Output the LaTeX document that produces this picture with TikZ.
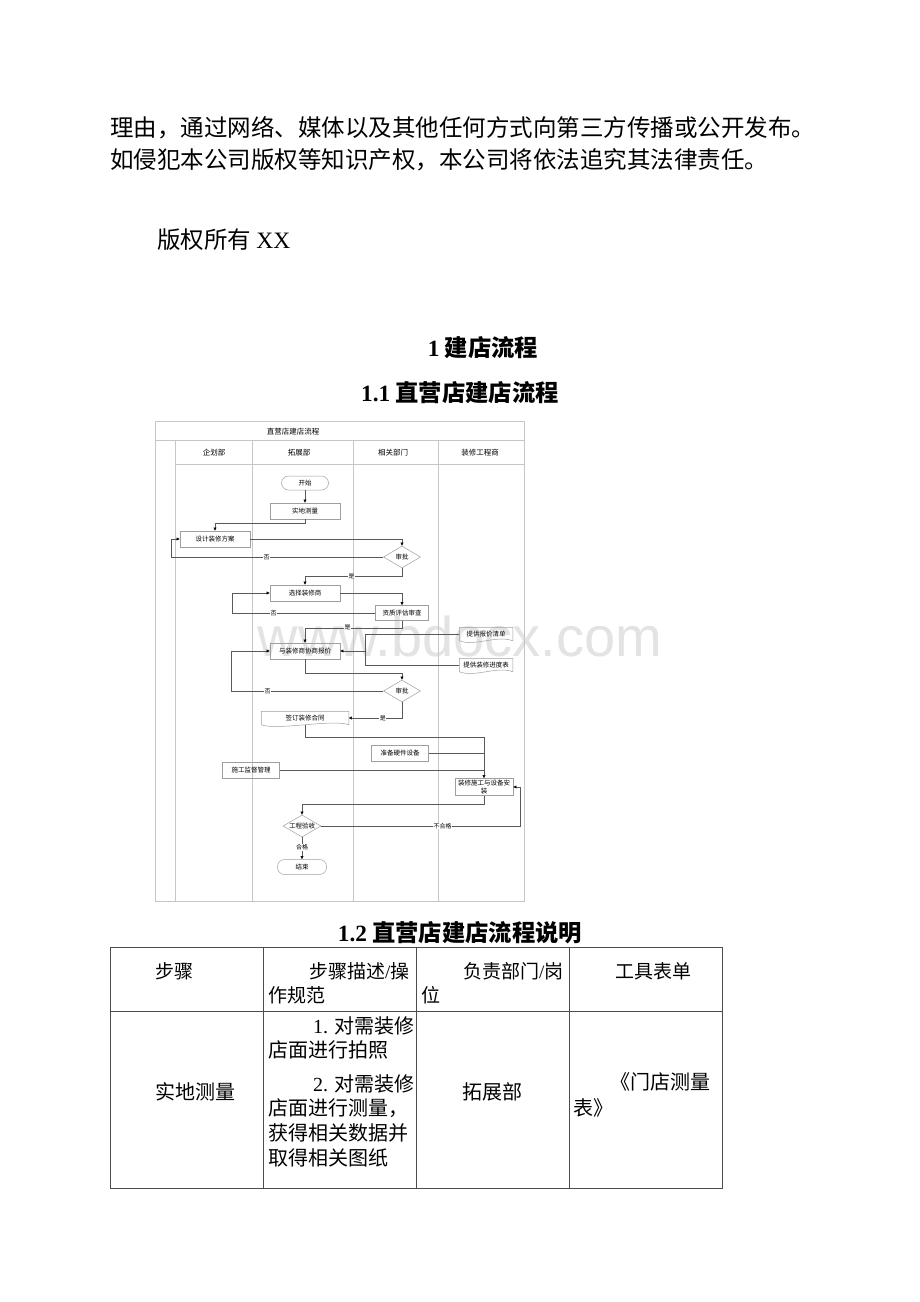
\documentclass[tikz,border=0pt]{standalone}
\usepackage{fontspec}
\setmainfont{Liberation Serif}
\newfontfamily\cjk{Noto Sans CJK SC}
\newfontfamily\wmfont{Liberation Sans}
\usetikzlibrary{arrows.meta,shapes.geometric}
\begin{document}
\begin{tikzpicture}[x=1pt,y=-1pt,
  body/.style={anchor=west,inner sep=0pt,font=\cjk\fontsize{23.5}{28}\selectfont},
  head/.style={inner sep=0pt,font=\cjk\bfseries\fontsize{23.3}{28}\selectfont},
  cell/.style={anchor=west,inner sep=0pt,font=\cjk\fontsize{20}{24}\selectfont},
  hcell/.style={cell,font=\cjk\fontsize{19}{24}\selectfont},
  lane/.style={inner sep=0pt,font=\cjk\fontsize{7.5}{8}\selectfont},
  box/.style={draw=gray!75,line width=0.5pt},
  proc/.style={box,minimum width=70,minimum height=16,inner sep=1pt,font=\cjk\fontsize{6.5}{7.5}\selectfont},
  term/.style={proc,rounded corners=7,minimum width=47,minimum height=14},
  dec/.style={proc,diamond,aspect=1.7,minimum width=37,minimum height=22,inner sep=0pt},
  doc/.style={proc,draw=none,minimum width=53,minimum height=13},
  wire/.style={draw=gray!70!black,line width=0.45pt},
  arr/.style={wire,-{Triangle[length=3.2pt,width=3pt,color=black]}},
  lbl/.style={fill=white,inner sep=0.6pt,font=\cjk\fontsize{6}{6}\selectfont},
  frame/.style={draw=gray!45,line width=0.8pt},
  tline/.style={draw=black!70,line width=0.8pt}]
\fill[white] (0,0) rectangle (920,1302);
\useasboundingbox (0,0) rectangle (920,1302);

\node[body] (p1) at (110,128) {理由，通过网络、媒体以及其他任何方式向第三方传播或公开发布。};
\node[body] (p2) at (110,160) {如侵犯本公司版权等知识产权，本公司将依法追究其法律责任。};
\node[body] (cr) at (157,240) {版权所有 {\rmfamily XX}};
\node[head] (h1) at (483,348) {{\rmfamily 1} 建店流程};
\node[head] (h11) at (460,393) {{\rmfamily 1.1} 直营店建店流程};

\node[text=gray!22,font=\wmfont\fontsize{56}{56}\selectfont] (wm) at (460,636) {www.bdocx.com};

\draw[frame] (155,421) rectangle (524,901);
\draw[frame] (155,440) -- (524,440) (175,464) -- (524,464);
\foreach \x in {175,252,353,438} \draw[frame] (\x,440) -- (\x,901);
\node[lane] (ttl) at (293,432) {直营店建店流程};
\node[lane] (l1) at (214,453) {企划部};
\node[lane] (l2) at (299,453) {拓展部};
\node[lane] (l3) at (393,453) {相关部门};
\node[lane] (l4) at (480,453) {装修工程商};

\node[term] (start) at (305,483) {开始};
\node[proc] (survey) at (305,511) {实地测量};
\node[proc] (design) at (215,539) {设计装修方案};
\node[dec] (ok1) at (402,557) {审批};
\node[proc] (pick) at (305,593) {选择装修商};
\node[proc,minimum width=53,minimum height=15] (check) at (402,613) {资质评估审查};
\node[doc] (price) at (486,634) {提供报价清单};
\node[doc] (plan) at (486,665) {提供装修进度表};
\node[proc] (nego) at (305,651) {与装修商协商报价};
\node[dec] (ok2) at (402,691) {审批};
\node[doc,minimum width=87] (deal) at (305,718) {签订装修合同};
\node[proc,minimum width=57] (gear) at (400,753) {准备硬件设备};
\node[proc,minimum width=57] (watch) at (251,770) {施工监督管理};
\node[proc,minimum width=58,minimum height=17,align=center] (build) at (484,787) {装修施工与设备安\\装};
\node[dec,minimum width=38] (accept) at (302,826) {工程验收};
\node[term,minimum width=49,minimum height=15] (stop) at (302,867) {结束};
\foreach \n in {price,plan,deal}
  \draw[box] (\n.south east) -- (\n.north east) -- (\n.north west) -- (\n.south west) .. controls +(16,6) and +(-16,-6) .. (\n.south east);

\draw[arr] (start) -- (survey);
\draw[arr] (survey.south) -- ++(0,4) -| (design.north);
\draw[arr] (design.east) -| (ok1.north);
\draw[arr] (ok1.west) -- ++(-212,0) node[lbl,pos=0.55] {否} |- (design.west);
\draw[arr] (ok1.south) -- ++(0,8) -| (pick.north) node[lbl,pos=0.26] {是};
\draw[arr] (pick.east) -| (check.north);
\draw[arr] (check.west) -- ++(-143,0) node[lbl,pos=0.71] {否} |- (pick.west);
\draw[arr] (check.south) -- ++(0,7) -| (nego.north) node[lbl,pos=0.28] {是};
\coordinate (mix) at (365,651);
\draw[wire] (price.west) -| (mix);
\draw[wire] (plan.west) -| (mix);
\draw[arr] (mix) -- (nego.east);
\draw[arr] (nego.south) -- ++(0,14) -| (ok2.north);
\draw[arr] (ok2.west) -- ++(-152,0) node[lbl,pos=0.76] {否} |- (nego.west);
\draw[arr] (ok2.south) |- (deal.east) node[lbl,pos=0.68] {是};
\draw[arr] (deal.south) -- ++(0,12) -| (build.north);
\draw[wire] (gear.east) -- (gear.east -| build.north);
\draw[wire] (watch.east) -- (watch.east -| build.north);
\draw[arr] (build.south) -- ++(0,8) -| (accept.north);
\draw[arr] (accept.east) -- ++(199,0) node[lbl,pos=0.61] {不合格} |- (build.east);
\draw[arr] (accept.south) -- (stop.north) node[lbl,pos=0.45] {合格};

\node[head] (h12) at (460,933) {{\rmfamily 1.2} 直营店建店流程说明};
\draw[tline] (110,947) rectangle (722,1188) (110,1011) -- (722,1011);
\foreach \x in {263,416,569} \draw[tline] (\x,947) -- (\x,1188);
\node[hcell] (c1) at (155,971) {步骤};
\node[hcell] (c2) at (309,971) {步骤描述{\rmfamily /}操};
\node[hcell] (c2b) at (268,995) {作规范};
\node[hcell] (c3) at (463,971) {负责部门{\rmfamily /}岗};
\node[hcell] (c3b) at (421,995) {位};
\node[hcell] (c4) at (615,971) {工具表单};
\node[cell] (r1) at (155,1092) {实地测量};
\node[cell] (d1) at (313,1026) {{\rmfamily 1.} 对需装修};
\node[cell] (d2) at (268,1050) {店面进行拍照};
\node[cell] (d3) at (313,1084) {{\rmfamily 2.} 对需装修};
\node[cell] (d4) at (268,1108) {店面进行测量，};
\node[cell] (d5) at (268,1133) {获得相关数据并};
\node[cell] (d6) at (268,1158) {取得相关图纸};
\node[cell] (r3) at (462,1092) {拓展部};
\node[cell] (f1) at (610,1082) {《门店测量};
\node[cell] (f2) at (573,1108) {表》};
\end{tikzpicture}
\end{document}
